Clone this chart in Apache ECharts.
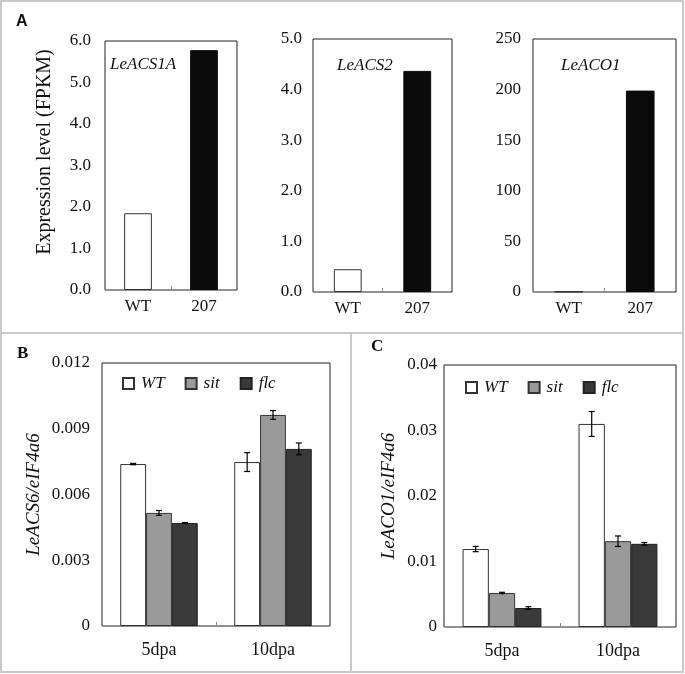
<!DOCTYPE html>
<html>
<head>
<meta charset="utf-8">
<script src="https://cdn.jsdelivr.net/npm/echarts@6/dist/echarts.min.js"></script>
<style>html,body{margin:0;padding:0;background:#fff}#c{width:685px;height:674px}</style>
</head>
<body>
<div id="c"></div>
<script>
// ---- data ----
const topCats = ['WT', '207'];
const acs1aVals = [1.85, 5.78];
const acs2Vals = [0.45, 4.37];
const aco1Vals = [0.3, 199];
const bottomCats = ['5dpa', '10dpa'];
const seriesNames = ['WT', 'sit', 'flc'];
const bWT = [0.00739, 0.00748], bWTErr = [0.00003, 0.00043];
const bSit = [0.00516, 0.00963], bSitErr = [0.00011, 0.00020];
const bFlc = [0.00470, 0.00808], bFlcErr = [0.00002, 0.00027];
const cWT = [0.0119, 0.0310], cWTErr = [0.0004, 0.0019];
const cSit = [0.0052, 0.0131], cSitErr = [0.0001, 0.0008];
const cFlc = [0.0029, 0.0127], cFlcErr = [0.0002, 0.0002];

// ---- styles ----
const serif = 'Liberation Serif';
const axisCol = '#222';
const topStyles = [
  {color: '#ffffff', borderColor: '#333', borderWidth: 1},
  {color: '#0a0a0a', borderColor: '#0a0a0a', borderWidth: 1}
];
const grpStyles = [
  {color: '#ffffff', borderColor: '#333', borderWidth: 1},
  {color: '#9a9a9a', borderColor: '#333', borderWidth: 1},
  {color: '#3a3a3a', borderColor: '#222', borderWidth: 1}
];

const grids = [
  {left: 105, top: 41, width: 132, height: 249},
  {left: 313, top: 39, width: 139, height: 253},
  {left: 533, top: 39, width: 143, height: 253},
  {left: 102, top: 363, width: 228, height: 263},
  {left: 444, top: 365, width: 232, height: 262}
].map(g => Object.assign(g, {show: true, borderColor: axisCol, borderWidth: 1, backgroundColor: 'transparent', containLabel: false}));

function xAx(gi, cats, fs, margin) {
  return {
    type: 'category', gridIndex: gi, data: cats,
    axisLine: {show: false},
    axisTick: {show: true, inside: true, length: 4, lineStyle: {color: '#888'}},
    axisLabel: {fontFamily: serif, fontSize: fs, color: '#111', margin: margin}
  };
}
function yAx(gi, max, interval, fmt, fs, margin, name, nameGap) {
  return {
    type: 'value', gridIndex: gi, min: 0, max: max, interval: interval,
    axisLine: {show: false}, axisTick: {show: false}, splitLine: {show: false},
    axisLabel: {fontFamily: serif, fontSize: fs, color: '#111', margin: margin, formatter: fmt},
    name: name || '', nameLocation: 'middle', nameGap: nameGap || 0,
    nameTextStyle: {fontFamily: serif, fontSize: 19, fontStyle: 'italic', color: '#111'}
  };
}

const f1 = v => v.toFixed(1);
const f0 = v => String(v);
const f3 = v => v === 0 ? '0' : v.toFixed(3);
const f2 = v => v === 0 ? '0' : v.toFixed(2);

const xAxes = [
  xAx(0, topCats, 17, 8), xAx(1, topCats, 17, 8), xAx(2, topCats, 17, 8),
  xAx(3, bottomCats, 18, 15), xAx(4, bottomCats, 18, 15)
];
const yAxes = [
  yAx(0, 6, 1, f1, 17, 14),
  yAx(1, 5, 1, f1, 17, 11),
  yAx(2, 250, 50, f0, 17, 12),
  yAx(3, 0.012, 0.003, f3, 17, 12, 'LeACS6/eIF4a6', 59),
  yAx(4, 0.04, 0.01, f2, 17, 7, 'LeACO1/eIF4a6', 46)
];

const series = [];
[acs1aVals, acs2Vals, aco1Vals].forEach((vals, gi) => {
  series.push({
    type: 'bar', name: 'top' + gi, xAxisIndex: gi, yAxisIndex: gi,
    barWidth: gi === 0 ? '42%' : '40%',
    data: vals.map((v, i) => ({value: v, itemStyle: topStyles[i]})),
    silent: true
  });
});

const GAP = 0.32;
function errRender(idx) {
  return function (params, api) {
    const cat = api.value(0), v = api.value(1), e = api.value(2);
    const catW = api.size([1, 0])[0];
    const barW = catW * (1 - GAP) / 3;
    const x0 = api.coord([cat, v])[0] + (idx - 1) * barW;
    const yHi = api.coord([cat, v + e])[1];
    const yLo = api.coord([cat, v - e])[1];
    const cap = 3;
    const st = {stroke: '#000', lineWidth: 1.2};
    return {type: 'group', children: [
      {type: 'line', shape: {x1: x0, y1: yHi, x2: x0, y2: yLo}, style: st},
      {type: 'line', shape: {x1: x0 - cap, y1: yHi, x2: x0 + cap, y2: yHi}, style: st},
      {type: 'line', shape: {x1: x0 - cap, y1: yLo, x2: x0 + cap, y2: yLo}, style: st}
    ]};
  };
}

const groupSets = [
  {gi: 3, vals: [bWT, bSit, bFlc], errs: [bWTErr, bSitErr, bFlcErr]},
  {gi: 4, vals: [cWT, cSit, cFlc], errs: [cWTErr, cSitErr, cFlcErr]}
];
groupSets.forEach(set => {
  set.vals.forEach((vals, k) => {
    series.push({
      type: 'bar', name: seriesNames[k], xAxisIndex: set.gi, yAxisIndex: set.gi,
      barGap: '0%', barCategoryGap: (GAP * 100) + '%',
      itemStyle: grpStyles[k], data: vals, silent: true
    });
  });
  set.vals.forEach((vals, k) => {
    series.push({
      type: 'custom', name: 'err' + set.gi + '_' + k, xAxisIndex: set.gi, yAxisIndex: set.gi,
      renderItem: errRender(k), z: 5, silent: true,
      encode: {x: 0, y: 1},
      data: vals.map((v, i) => [i, v, set.errs[k][i]])
    });
  });
});

const legendCommon = {
  data: seriesNames, orient: 'horizontal', icon: 'rect', itemWidth: 11, itemHeight: 11,
  itemGap: 20, padding: 0, selectedMode: false,
  textStyle: {fontFamily: serif, fontStyle: 'italic', fontSize: 17, color: '#111', padding: [0, 0, 0, 2]}
};

const geneStyle = {fontFamily: serif, fontStyle: 'italic', fontWeight: 'normal', fontSize: 17, color: '#111'};

const option = {
  animation: false,
  backgroundColor: '#fff',
  grid: grids,
  xAxis: xAxes,
  yAxis: yAxes,
  series: series,
  legend: [
    Object.assign({}, legendCommon, {left: 122, top: 375}),
    Object.assign({}, legendCommon, {left: 465, top: 379})
  ],
  title: [
    {text: 'A', left: 11, top: 9, textStyle: {fontFamily: 'Liberation Sans', fontWeight: 'bold', fontSize: 16, color: '#111'}},
    {text: 'B', left: 12, top: 340, textStyle: {fontFamily: serif, fontWeight: 'bold', fontSize: 17, color: '#111'}},
    {text: 'C', left: 366, top: 333, textStyle: {fontFamily: serif, fontWeight: 'bold', fontSize: 17, color: '#111'}},
    {text: 'LeACS1A', left: 105, top: 51, textStyle: geneStyle},
    {text: 'LeACS2', left: 332, top: 52, textStyle: geneStyle},
    {text: 'LeACO1', left: 556, top: 52, textStyle: geneStyle}
  ],
  graphic: [
    {type: 'rect', shape: {x: 1, y: 1, width: 682, height: 671}, style: {fill: 'none', stroke: '#c8c8c8', lineWidth: 2}, silent: true, z: -1},
    {type: 'line', shape: {x1: 0, y1: 333, x2: 684, y2: 333}, style: {stroke: '#c8c8c8', lineWidth: 2}, silent: true, z: -1},
    {type: 'line', shape: {x1: 351, y1: 333, x2: 351, y2: 672}, style: {stroke: '#c8c8c8', lineWidth: 2}, silent: true, z: -1},
    {type: 'text', x: 45, y: 152, rotation: Math.PI / 2, silent: true,
     style: {text: 'Expression level (FPKM)', fontFamily: serif, fontSize: 20, fill: '#111', align: 'center', verticalAlign: 'middle'}}
  ]
};

const chart = echarts.init(document.getElementById('c'), null, {renderer: 'canvas'});
chart.setOption(option);
</script>
</body>
</html>
